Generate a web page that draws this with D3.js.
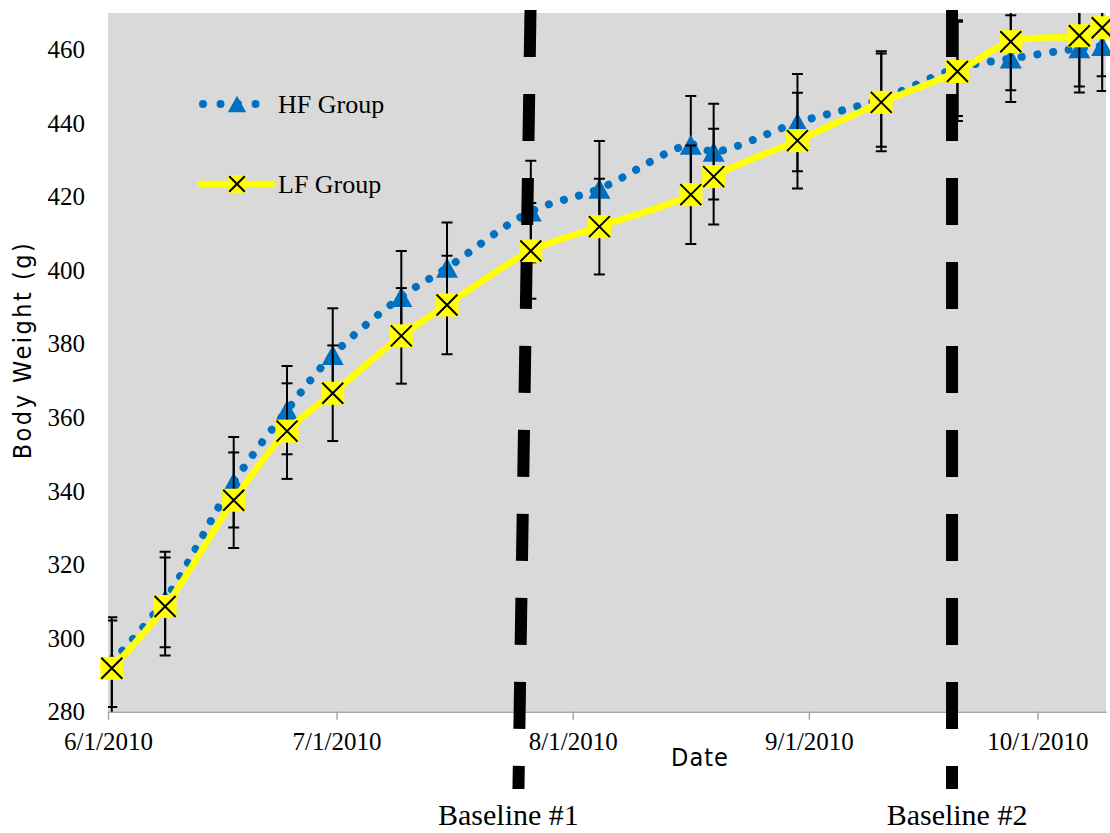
<!DOCTYPE html>
<meta charset="utf-8">
<style>
body {
  margin: 0;
  background: #fff;
}

.axis text {
  font-family: "Liberation Serif", "Times New Roman", serif;
  font-size: 25px;
  fill: #000;
}

.axis--x .domain,
.axis--x .tick line {
  stroke: #a6a6a6;
  stroke-width: 1.5px;
}

.axis--y .domain,
.axis--y .tick line {
  display: none;
}

.axis-title {
  font-family: "Liberation Sans Narrow", "DejaVu Sans Condensed", sans-serif;
  font-size: 25px;
  fill: #000;
}

.legend text,
.baseline text {
  font-family: "Liberation Serif", "Times New Roman", serif;
  fill: #000;
}

.err line {
  stroke: #000;
  stroke-width: 2px;
}
</style>
<body>
<script src="https://cdn.jsdelivr.net/npm/d3@7"></script>
<script>

// weigh-in dates
var dates = ["2010-06-01", "2010-06-08", "2010-06-17", "2010-06-24", "2010-06-30",
             "2010-07-09", "2010-07-15", "2010-07-26", "2010-08-04", "2010-08-16",
             "2010-08-19", "2010-08-30", "2010-09-10", "2010-09-20", "2010-09-27",
             "2010-10-06", "2010-10-09"];

var hfWeight = [293.5, 310.5, 342.4, 362.0, 377.0, 392.8, 400.7, 416.0, 422.2, 434.2,
                432.3, 440.2, 446.6, 455.0, 457.6, 460.4, 461.0];
var hfErr    = [12.2, 13.0, 12.3, 12.0, 12.7, 12.5, 12.3, 13.8, 13.0, 13.2,
                13.0, 13.2, 13.0, 13.0, 11.8, 12.0, 12.2];

var lfWeight = [291.8, 308.6, 337.5, 356.3, 366.6, 382.2, 390.6, 405.3, 411.9, 420.6,
                425.5, 435.3, 445.7, 454.1, 462.2, 463.8, 466.0];
var lfErr    = [13.0, 13.3, 13.0, 13.0, 13.0, 13.0, 13.4, 13.0, 13.0, 13.4,
                13.0, 13.0, 13.3, 13.5, 13.2, 13.8, 13.2];

var seriesNames = ["HF Group", "LF Group"];

var yTicks = [280, 300, 320, 340, 360, 380, 400, 420, 440, 460];
var xTicks = ["2010-06-01", "2010-07-01", "2010-08-01", "2010-09-01", "2010-10-01"];
var xRange = ["2010-06-01", "2010-10-10"];

var baselineNames  = ["Baseline #1", "Baseline #2"];
var baselineTop    = ["2010-07-26T11:00", "2010-09-19T19:00"];
var baselineBottom = ["2010-07-24T21:00", "2010-09-19T19:00"];

var parseDay = d3.timeParse("%Y-%m-%d"),
    parseTime = d3.timeParse("%Y-%m-%dT%H:%M");

var margin = {top: 13, right: 4, bottom: 121.3, left: 108},
    width = 1110 - margin.left - margin.right,
    height = 833 - margin.top - margin.bottom;

var x = d3.scaleTime()
    .domain(xRange.map(parseDay))
    .range([0, width]);

var y = d3.scaleLinear()
    .domain([280, 470])
    .range([height, 0]);

// excel puts each day's point in the middle of its day slot
function xDay(s) { return x(d3.timeHour.offset(parseDay(s), 12)); }

var hf = dates.map(function(d, i) { return {date: d, value: hfWeight[i], err: hfErr[i]}; });
var lf = dates.map(function(d, i) { return {date: d, value: lfWeight[i], err: lfErr[i]}; });

var svg = d3.select("body").append("svg")
    .attr("width", width + margin.left + margin.right)
    .attr("height", height + margin.top + margin.bottom)
  .append("g")
    .attr("transform", "translate(" + margin.left + "," + margin.top + ")");

svg.append("defs").append("clipPath")
    .attr("id", "plot-clip")
  .append("rect")
    .attr("width", width)
    .attr("height", height);

svg.append("rect")
    .attr("width", width)
    .attr("height", height)
    .attr("fill", "#d9d9d9");

svg.append("g")
    .attr("class", "axis axis--x")
    .attr("transform", "translate(0," + height + ")")
    .call(d3.axisBottom(x)
        .tickValues(xTicks.map(parseDay))
        .tickFormat(d3.timeFormat("%-m/%-d/%Y"))
        .tickSize(8)
        .tickSizeOuter(0)
        .tickPadding(12.5));

svg.append("g")
    .attr("class", "axis axis--y")
    .call(d3.axisLeft(y)
        .tickValues(yTicks)
        .tickSize(0)
        .tickPadding(23));

svg.append("text")
    .attr("class", "axis-title")
    .attr("transform", "translate(" + (31 - margin.left) + "," + (350 - margin.top) + ")rotate(-90)")
    .attr("text-anchor", "middle")
    .attr("letter-spacing", "2.5px")
    .text("Body Weight (g)");

svg.append("text")
    .attr("class", "axis-title")
    .attr("x", 700 - margin.left)
    .attr("y", height + 54)
    .attr("text-anchor", "middle")
    .attr("letter-spacing", "1px")
    .text("Date");

var triangle = function(s) { return "M0," + (-s) + "L" + (s * 1.1) + "," + s + "L" + (-s * 1.1) + "," + s + "Z"; };

function errorBars(data) {
  var g = svg.append("g")
      .attr("class", "err")
      .attr("clip-path", "url(#plot-clip)")
    .selectAll("g")
    .data(data)
    .enter().append("g")
      .attr("transform", function(d) { return "translate(" + xDay(d.date) + ",0)"; });

  g.append("line")
      .attr("y1", function(d) { return y(d.value - d.err); })
      .attr("y2", function(d) { return y(d.value + d.err); });

  g.append("line")
      .attr("x1", -5.5).attr("x2", 5.5)
      .attr("y1", function(d) { return y(d.value - d.err); })
      .attr("y2", function(d) { return y(d.value - d.err); });

  g.append("line")
      .attr("x1", -5.5).attr("x2", 5.5)
      .attr("y1", function(d) { return y(d.value + d.err); })
      .attr("y2", function(d) { return y(d.value + d.err); });
}

var line = d3.line()
    .curve(d3.curveCatmullRom)
    .x(function(d) { return xDay(d.date); })
    .y(function(d) { return y(d.value); });

// HF group: blue dotted line with triangles
errorBars(hf);

svg.append("path")
    .datum(hf)
    .attr("d", line)
    .attr("fill", "none")
    .attr("stroke", "#0070c0")
    .attr("stroke-width", 8)
    .attr("stroke-linecap", "round")
    .attr("stroke-dasharray", "0.01,15.7");

svg.append("g")
  .selectAll("path")
  .data(hf)
  .enter().append("path")
    .attr("transform", function(d) { return "translate(" + xDay(d.date) + "," + y(d.value) + ")"; })
    .attr("d", triangle(10))
    .attr("fill", "#0070c0");

// LF group: yellow line with boxed crosses
errorBars(lf);

svg.append("path")
    .datum(lf)
    .attr("d", line)
    .attr("fill", "none")
    .attr("stroke", "#ffff00")
    .attr("stroke-width", 6.5)
    .attr("stroke-linejoin", "round");

function crossMarker(sel, s) {
  sel.append("rect")
      .attr("x", -s).attr("y", -s)
      .attr("width", 2 * s).attr("height", 2 * s)
      .attr("fill", "#ffff00");
  sel.append("path")
      .attr("d", "M" + (-s + 1) + "," + (-s + 1) + "L" + (s - 1) + "," + (s - 1) +
                 "M" + (-s + 1) + "," + (s - 1) + "L" + (s - 1) + "," + (-s + 1))
      .attr("stroke", "#000")
      .attr("stroke-width", 2);
}

svg.append("g")
  .selectAll("g")
  .data(lf)
  .enter().append("g")
    .attr("transform", function(d) { return "translate(" + xDay(d.date) + "," + y(d.value) + ")"; })
    .call(crossMarker, 11.5);

// legend
var legend = svg.append("g")
    .attr("class", "legend")
    .attr("transform", "translate(" + (200 - margin.left) + "," + (104 - margin.top) + ")");

legend.append("line")
    .attr("x1", 3).attr("x2", 56)
    .attr("stroke", "#0070c0")
    .attr("stroke-width", 8)
    .attr("stroke-linecap", "round")
    .attr("stroke-dasharray", "0.01,17.5");

legend.append("path")
    .attr("transform", "translate(37,0)")
    .attr("d", triangle(8.3))
    .attr("fill", "#0070c0");

legend.append("text")
    .attr("x", 78)
    .attr("y", 9)
    .attr("font-size", "26px")
    .text(seriesNames[0]);

var lfItem = legend.append("g")
    .attr("transform", "translate(0,80)");

lfItem.append("line")
    .attr("x1", 1).attr("x2", 72)
    .attr("stroke", "#ffff00")
    .attr("stroke-width", 6.5)
    .attr("stroke-linecap", "round");

lfItem.append("g")
    .attr("transform", "translate(37,0)")
    .call(crossMarker, 8.8);

lfItem.append("text")
    .attr("x", 78)
    .attr("y", 9)
    .attr("font-size", "26px")
    .text(seriesNames[1]);

// baseline markers, drawn over everything
var baseline = svg.selectAll(".baseline")
    .data(baselineNames)
  .enter().append("g")
    .attr("class", "baseline");

baseline.append("line")
    .attr("x1", function(d, i) { return x(parseTime(baselineTop[i])); })
    .attr("x2", function(d, i) { return x(parseTime(baselineBottom[i])); })
    .attr("y1", -3)
    .attr("y2", height + 77.3)
    .attr("stroke", "#000")
    .attr("stroke-width", 12)
    .attr("stroke-dasharray", "47,37");

baseline.append("text")
    .attr("x", function(d, i) { return x(parseTime(baselineBottom[i])) + (i === 0 ? -10 : 5); })
    .attr("y", height + 113.3)
    .attr("text-anchor", "middle")
    .attr("font-size", "30px")
    .text(function(d) { return d; });

</script>
